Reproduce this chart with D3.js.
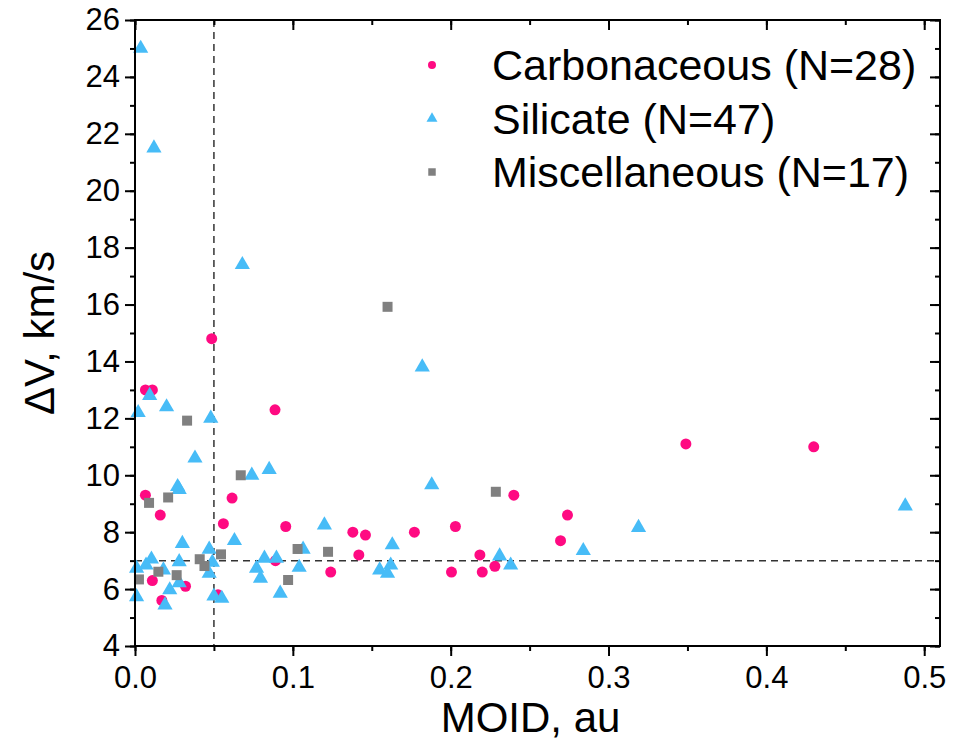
<!DOCTYPE html>
<html>
<head>
<meta charset="utf-8">
<script src="https://cdn.jsdelivr.net/npm/d3@7"></script>
<style>
  body { margin: 0; background: #fff; }
  svg text { font-family: "Liberation Sans", Arial, sans-serif; fill: #000; }
</style>
</head>
<body>
<div class="svg-container"></div>
<script>
// MOID (au) and delta-V (km/s)
const carbMoid = [0.0486, 0.0066, 0.011, 0.0887, 0.0066, 0.016, 0.0615, 0.056, 0.0955, 0.011,
                  0.032, 0.017, 0.0526, 0.089, 0.138, 0.146, 0.177, 0.203, 0.240, 0.1418,
                  0.2185, 0.228, 0.124, 0.2005, 0.220, 0.349, 0.430, 0.274, 0.2696];
const carbDv   = [14.8, 13.0, 13.0, 12.3, 9.3, 8.6, 9.2, 8.3, 8.2, 6.3,
                  6.1, 5.6, 5.8, 7.0, 8.0, 7.9, 8.0, 8.2, 9.3, 7.2,
                  7.2, 6.8, 6.6, 6.6, 6.6, 11.1, 11.0, 8.6, 7.7];

const silMoid = [0.0036, 0.012, 0.068, 0.0093, 0.020, 0.002, 0.048, 0.038, 0.085, 0.074,
                 0.027, 0.028, 0.063, 0.030, 0.047, 0.1065, 0.0104, 0.007, 0.001, 0.028,
                 0.049, 0.018, 0.047, 0.028, 0.022, 0.001, 0.019, 0.050, 0.055, 0.077,
                 0.0795, 0.082, 0.0896, 0.104, 0.092, 0.120, 0.188, 0.163, 0.231, 0.238,
                 0.155, 0.162, 0.160, 0.488, 0.284, 0.319, 0.182];
const silDv   = [25.0, 21.5, 17.4, 12.8, 12.4, 12.2, 12.0, 10.6, 10.2, 10.0,
                 9.6, 9.5, 7.7, 7.6, 7.4, 7.4, 7.05, 6.84, 6.73, 6.96,
                 6.94, 6.67, 6.55, 6.22, 5.97, 5.73, 5.44, 5.75, 5.67, 6.73,
                 6.38, 7.08, 7.08, 6.76, 5.85, 8.25, 9.66, 7.55, 7.16, 6.84,
                 6.67, 6.84, 6.55, 8.92, 7.35, 8.16, 13.8];

const miscMoid = [0.033, 0.067, 0.021, 0.0089, 0.0545, 0.103, 0.041, 0.044, 0.0148, 0.0264,
                  0.0025, 0.097, 0.2286, 0.1223, 0.160];
const miscDv   = [11.92, 10.0, 9.22, 9.03, 7.22, 7.41, 7.05, 6.81, 6.61, 6.49,
                  6.34, 6.32, 9.42, 7.31, 15.92];

const seriesNames = ['Carbonaceous (N=28)', 'Silicate (N=47)', 'Miscellaneous (N=17)'];
const xTicks = [0, 0.1, 0.2, 0.3, 0.4, 0.5];
const yTicks = [4, 6, 8, 10, 12, 14, 16, 18, 20, 22, 24, 26];
const moidLimit = 0.05;
const dvLimit = 7;

// chart
const margin = {top: 20, right: 31, bottom: 98, left: 135};
const width = 971 - margin.left - margin.right;
const height = 744 - margin.top - margin.bottom;

const xScale = d3.scaleLinear().domain([0, 0.51]).range([0, width]);
const yScale = d3.scaleLinear().domain([4, 26]).range([height, 0]);

const svg = d3.select('.svg-container')
  .append('svg')
  .attr('width', 971)
  .attr('height', 744)
  .append('g')
  .attr('transform', `translate(${margin.left}, ${margin.top})`);

// reference lines
svg.append('line')
  .attr('x1', xScale(moidLimit)).attr('x2', xScale(moidLimit))
  .attr('y1', 0).attr('y2', height)
  .attr('stroke', '#333').attr('stroke-width', 1.5)
  .attr('stroke-dasharray', '7,5');
svg.append('line')
  .attr('x1', 0).attr('x2', width)
  .attr('y1', yScale(dvLimit)).attr('y2', yScale(dvLimit))
  .attr('stroke', '#333').attr('stroke-width', 1.5)
  .attr('stroke-dasharray', '7,5');

const series = [
  {name: seriesNames[0], x: carbMoid, y: carbDv, type: d3.symbolCircle, size: 95, legSize: 50, color: '#FF0A82'},
  {name: seriesNames[1], x: silMoid, y: silDv, type: d3.symbolTriangle, size: 100, legSize: 52, color: '#47BCF7'},
  {name: seriesNames[2], x: miscMoid, y: miscDv, type: d3.symbolSquare, size: 100, legSize: 56, color: '#808080'}
];

series.forEach(s => {
  const pts = s.x.map((v, i) => ({x: v, y: s.y[i]}));
  svg.append('g')
    .selectAll('path')
    .data(pts)
    .enter()
    .append('path')
    .attr('d', d3.symbol().type(s.type).size(s.size))
    .attr('transform', d => `translate(${xScale(d.x)}, ${yScale(d.y)})`)
    .attr('fill', s.color);
});

// axes
const xMinor = d3.range(0, 0.51, 0.05);
const yMinor = d3.range(4, 26.5, 1);

function tickStyle(g) {
  g.select('.domain').remove();
  g.selectAll('line').attr('stroke', '#000').attr('stroke-width', 2);
}

svg.append('g')
  .attr('transform', `translate(0, ${height})`)
  .call(d3.axisBottom(xScale).tickValues(xMinor).tickSize(5).tickFormat(''))
  .call(tickStyle);
svg.append('g')
  .attr('transform', `translate(0, ${height})`)
  .call(d3.axisBottom(xScale).tickValues(xTicks).tickSize(10).tickPadding(10).tickFormat(d3.format('.1f')))
  .call(tickStyle)
  .selectAll('text').style('font-size', '31px');

svg.append('g')
  .call(d3.axisLeft(yScale).tickValues(yMinor).tickSize(5).tickFormat(''))
  .call(tickStyle);
svg.append('g')
  .call(d3.axisLeft(yScale).tickValues(yTicks).tickSize(10).tickPadding(5))
  .call(tickStyle)
  .selectAll('text').style('font-size', '31px');

// mirrored inner ticks on top and right
svg.append('g')
  .call(d3.axisBottom(xScale).tickValues(xMinor).tickSize(5).tickFormat(''))
  .call(tickStyle);
svg.append('g')
  .call(d3.axisBottom(xScale).tickValues(xTicks).tickSize(10).tickFormat(''))
  .call(tickStyle);
svg.append('g')
  .attr('transform', `translate(${width}, 0)`)
  .call(d3.axisLeft(yScale).tickValues(yMinor).tickSize(5).tickFormat(''))
  .call(tickStyle);
svg.append('g')
  .attr('transform', `translate(${width}, 0)`)
  .call(d3.axisLeft(yScale).tickValues(yTicks).tickSize(10).tickFormat(''))
  .call(tickStyle);

// frame
svg.append('rect')
  .attr('width', width).attr('height', height)
  .attr('fill', 'none').attr('stroke', '#000').attr('stroke-width', 2);

// axis titles
svg.append('text')
  .attr('x', width / 2 - 7)
  .attr('y', height + 86)
  .attr('text-anchor', 'middle')
  .style('font-size', '42px')
  .text('MOID, au');

svg.append('text')
  .attr('transform', `translate(${-margin.left + 54}, ${height / 2}) rotate(-90)`)
  .attr('text-anchor', 'middle')
  .style('font-size', '42px')
  .text('ΔV, km/s');

// legend
const legend = svg.append('g')
  .attr('transform', `translate(${432 - margin.left}, ${65 - margin.top})`);
series.forEach((s, i) => {
  const row = legend.append('g').attr('transform', `translate(0, ${i * 53.5})`);
  row.append('path')
    .attr('d', d3.symbol().type(s.type).size(s.legSize))
    .attr('fill', s.color);
  row.append('text')
    .attr('x', 60)
    .attr('y', 15)
    .style('font-size', '43px')
    .text(s.name);
});
</script>
</body>
</html>
